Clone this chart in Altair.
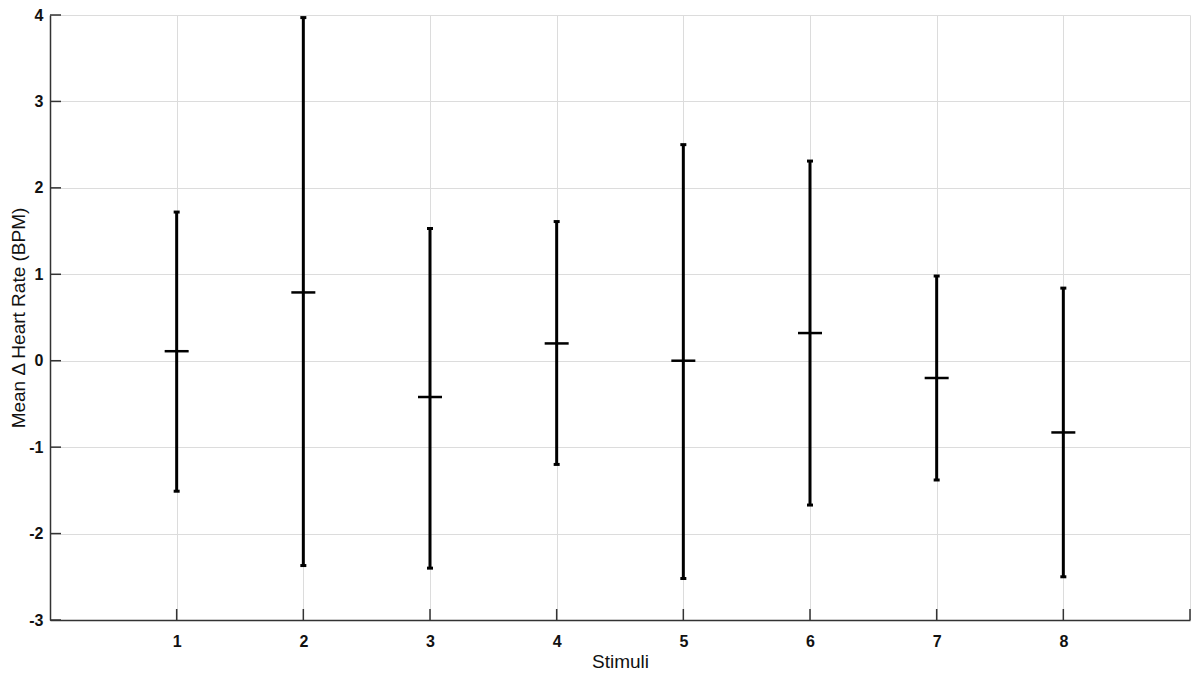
import altair as alt
import pandas as pd

stimuli = [1, 2, 3, 4, 5, 6, 7, 8]
means = [0.11, 0.79, -0.42, 0.20, 0.00, 0.32, -0.20, -0.83]
upper = [1.72, 3.97, 1.53, 1.61, 2.50, 2.31, 0.98, 0.84]
lower = [-1.51, -2.37, -2.40, -1.20, -2.52, -1.67, -1.38, -2.50]

x_ticks = [1, 2, 3, 4, 5, 6, 7, 8, 9]
y_ticks = [-3, -2, -1, 0, 1, 2, 3, 4]

df = pd.DataFrame({"stim": stimuli, "mean": means, "hi": upper, "lo": lower})
xt = pd.DataFrame({"t": x_ticks})
yt = pd.DataFrame({"t": y_ticks})

FONT = "Liberation Sans"
xscale = alt.Scale(domain=[0, 9], nice=False, zero=False)
yscale = alt.Scale(domain=[-3, 4], nice=False, zero=False)

W, H = 1140, 605

xaxis = alt.Axis(values=x_ticks, title="Stimuli", ticks=False, domain=True,
                 domainColor="#333333", domainWidth=1.5,
                 grid=True, gridColor="#dcdcdc", gridWidth=1,
                 format="d",
                 labelExpr="datum.value > 8 ? '' : datum.label",
                 labelFont=FONT, labelFontSize=16, labelFontWeight="bold",
                 labelColor="#111111", labelPadding=13,
                 titleFont=FONT, titleFontSize=19, titleFontWeight="normal",
                 titleColor="#111111", titlePadding=3)
yaxis = alt.Axis(values=y_ticks, title="Mean Δ Heart Rate (BPM)", ticks=False,
                 domain=True, domainColor="#333333", domainWidth=1.5,
                 grid=True, gridColor="#dcdcdc", gridWidth=1,
                 format="d",
                 labelExpr="replace(datum.label, '\u2212', '-')",
                 labelFont=FONT, labelFontSize=16, labelFontWeight="bold",
                 labelColor="#111111", labelPadding=7,
                 titleFont=FONT, titleFontSize=19, titleFontWeight="normal",
                 titleColor="#111111", titlePadding=0)

base = alt.Chart(df)

bars = base.mark_rule(color="black", strokeWidth=3).encode(
    x=alt.X("stim:Q", scale=xscale, axis=xaxis),
    y=alt.Y("lo:Q", scale=yscale, axis=yaxis),
    y2="hi:Q",
)
cap_hi = base.mark_rule(color="black", strokeWidth=3, xOffset=-3, x2Offset=3).encode(
    x="stim:Q", x2="stim:Q", y="hi:Q")
cap_lo = base.mark_rule(color="black", strokeWidth=3, xOffset=-3, x2Offset=3).encode(
    x="stim:Q", x2="stim:Q", y="lo:Q")
mean_mark = base.mark_rule(color="black", strokeWidth=2.5, xOffset=-12, x2Offset=12).encode(
    x="stim:Q", x2="stim:Q", y="mean:Q")

xtick_marks = alt.Chart(xt).mark_rule(color="#333333", strokeWidth=1.5).encode(
    x="t:Q", y=alt.value(H), y2=alt.value(H - 11))
ytick_marks = alt.Chart(yt).mark_rule(color="#333333", strokeWidth=1.5).encode(
    y="t:Q", x=alt.value(0), x2=alt.value(11))

chart = alt.layer(bars, cap_hi, cap_lo, mean_mark, xtick_marks, ytick_marks).properties(
    width=W, height=H,
    autosize=alt.AutoSizeParams(type="none"),
    padding={"left": 42, "top": 7, "right": 2, "bottom": 56},
).configure_view(stroke=None)

chart.save("out.html", embed_options={"renderer": "svg", "actions": False})
